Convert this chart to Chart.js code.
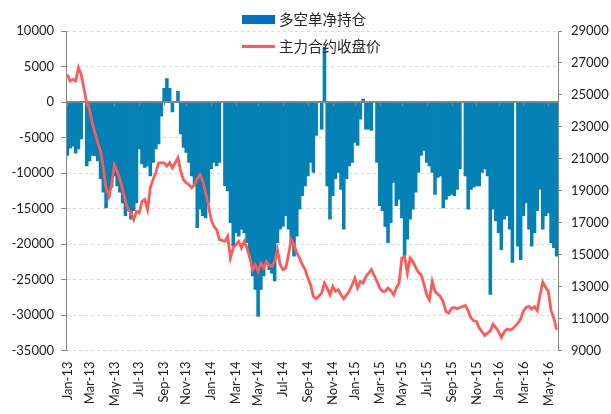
<!DOCTYPE html>
<html><head><meta charset="utf-8">
<script src="https://cdn.jsdelivr.net/npm/chart.js@4.4.1/dist/chart.umd.min.js"></script>
<style>
html,body{margin:0;padding:0;background:#fff;}
#wrap{position:relative;width:611px;height:414px;overflow:hidden;background:#fff;}
canvas{position:absolute;left:0;top:0;}
.lg{position:absolute;left:242px;height:20px;display:flex;align-items:center;font-family:"Noto Sans CJK SC";font-size:14.5px;color:#262626;white-space:nowrap;line-height:1;}
.lg .sw{display:inline-block;width:33px;margin-right:4px;}
</style></head><body>
<div id="wrap"><canvas id="c" width="611" height="414"></canvas>
<div class="lg" style="top:9px"><span class="sw" style="height:9px;background:#0070C0"></span><span id="n0"></span></div>
<div class="lg" style="top:36px"><span class="sw" style="height:3px;background:#FF5A5A"></span><span id="n1"></span></div>
</div>
<script>
const seriesNames = ['多空单净持仓', '主力合约收盘价'];
const firstWeek = [2013, 0, 4];
const tickLabels = ['Jan-13','Mar-13','May-13','Jul-13','Sep-13','Nov-13','Jan-14','Mar-14','May-14','Jul-14','Sep-14','Nov-14','Jan-15','Mar-15','May-15','Jul-15','Sep-15','Nov-15','Jan-16','Mar-16','May-16'];
// weekly net position (null = holiday week)
const netPosition = [
-7500,-6500,-6200,-7200,-6600,-5200,null,-9000,-8300,-7500,
-7600,-8300,-10800,-12700,-14900,-13400,-12000,-10400,-11800,-12700,
-14200,-16000,-15300,-16500,-15300,-14200,-6600,-8700,-9200,-9000,
-10400,-8500,-6600,-5900,-2000,1900,3300,1900,-1400,null,
1500,-4500,-6400,-7100,-8500,-10400,-11800,-17700,-15100,-16000,
-16300,-14200,-9400,-8500,-9000,-8500,null,-11800,-12500,-17000,
-20300,-18400,-18900,-17900,-18400,-19800,-21700,-24500,-26400,-30200,
-26400,-24500,-22600,-23600,-24100,-25200,-19800,-17900,-17500,-16000,
-17900,-19800,-21700,-18900,-15100,-13200,-11800,-10400,-8500,-9900,
-4700,null,-3800,7700,-11800,-16500,-13200,-10800,-9900,-12300,
-17900,-10800,-9000,-8500,-5700,-6100,-2400,400,-3800,-3800,
-4000,null,-8500,-14600,-15300,-17500,-19800,-17000,-11300,-14600,
-13700,-16300,-21700,-19300,-16500,-15100,-12700,-9900,-7500,-6800,
-8500,-9000,-9900,-13000,-10600,-10400,-14900,-13700,-13200,-13000,
-13200,-12300,-9400,null,-10400,-15100,-12300,-12000,-11800,-11800,
-9900,-9400,-10400,-27100,-15100,-16700,-18400,-20800,-16500,-16000,
-17900,-22600,null,-20300,-22200,-16000,-14200,-17900,-20300,-18400,
-15300,-12300,-17900,-16000,-15600,-19800,-20500,-21700
];
// weekly close of main contract
const closePrice = [
26280,25870,25970,25870,26700,26280,null,24500,24090,23250,
22630,22000,21480,20430,19180,18650,19390,20600,20220,19700,
19070,18340,17820,17610,17190,17710,17610,18340,18450,17820,
19180,19700,20120,20750,20750,20750,20540,20750,20430,null,
21060,20220,19700,19490,19390,19180,19390,19760,20010,19600,
18860,18130,17190,16770,16560,15940,null,15830,16150,14790,
15420,15620,15830,15420,15830,15420,14790,14060,14370,13950,
14470,14160,14580,14330,14260,14580,15310,14370,14060,14160,
15000,15940,15620,15100,14790,14370,14060,13530,13120,12380,
12240,null,12590,13220,12910,12490,13010,12700,12800,12490,
12240,12490,12700,13120,13530,12910,13330,13220,13640,13850,
14060,null,13330,12910,12700,12700,12910,12750,12490,12910,
13220,14790,14890,13850,14790,14580,14200,13890,13740,13160,
12490,12170,13330,12700,12530,12380,12030,11440,11340,11650,
11690,11610,11690,null,11820,11490,11030,10860,10820,10400,
10190,9940,10090,10230,10650,10440,10190,9810,10150,10340,
10290,10340,null,10710,10980,11490,11690,11760,11590,11740,
11490,12490,13280,12950,12700,11490,11030,10300
];

document.getElementById('n0').textContent = seriesNames[0];
document.getElementById('n1').textContent = seriesNames[1];

const weeks = netPosition.map((_, i) => {
  const d = new Date(Date.UTC(firstWeek[0], firstWeek[1], firstWeek[2] + 7 * i));
  return d.toISOString().slice(0, 10);
});
const labelAt = {};
let k = 0;
weeks.forEach((w, i) => {
  const d = new Date(w + 'T00:00:00Z');
  if (d.getUTCDate() <= 7 && d.getUTCMonth() % 2 === 0 && k < tickLabels.length) labelAt[i] = tickLabels[k++];
});

const tickFont = {family: 'Lato', size: 13};
const axisGray = '#868686';

const zeroLine = {
  id: 'zeroLine',
  beforeDatasetDraw(chart, args) {
    if (args.index !== 1) return;
    const {ctx, chartArea: a, scales: {x, y}} = chart;
    const y0 = Math.round(y.getPixelForValue(0));
    ctx.save();
    ctx.strokeStyle = axisGray;
    ctx.lineWidth = 2;
    ctx.beginPath();
    ctx.moveTo(a.left, y0); ctx.lineTo(a.right, y0);
    ctx.stroke();
    ctx.lineWidth = 1;
    ctx.beginPath();
    Object.keys(labelAt).forEach(i => {
      const px = Math.round(x.getPixelForValue(+i)) + 0.5;
      ctx.moveTo(px, y0); ctx.lineTo(px, y0 + 4);
    });
    ctx.stroke();
    ctx.restore();
  }
};

new Chart(document.getElementById('c'), {
  data: {
    labels: weeks,
    datasets: [
      {type: 'bar', label: seriesNames[0], data: netPosition, yAxisID: 'y', backgroundColor: '#0481B5',
       barPercentage: 1, categoryPercentage: 1, inflateAmount: 0.4, order: 2},
      {type: 'line', label: seriesNames[1], data: closePrice, yAxisID: 'y1', borderColor: '#FF5A5A',
       borderWidth: 2.8, pointRadius: 0, tension: 0, spanGaps: true, order: 1}
    ]
  },
  options: {
    responsive: false, animation: false, devicePixelRatio: 1,
    layout: {padding: {top: 31, left: 0, right: 0, bottom: 0}},
    plugins: {legend: {display: false}, tooltip: {enabled: false}},
    scales: {
      x: {
        type: 'category', offset: true,
        grid: {display: false, drawTicks: false}, border: {display: false},
        ticks: {autoSkip: false, maxRotation: 90, minRotation: 90, padding: 11, color: '#222', font: tickFont,
                callback: (v, i) => (labelAt[i] !== undefined ? labelAt[i] : null)},
        afterFit: s => { s.height = 63.5; }
      },
      y: {
        position: 'left', min: -35000, max: 10000,
        ticks: {stepSize: 5000, padding: 7, color: '#222', font: tickFont, callback: v => String(v)},
        grid: {color: c => (c.tick && c.tick.value === 0 ? 'rgba(0,0,0,0)' : '#D9D9D9'), lineWidth: 1,
               tickColor: axisGray, tickLength: 5, borderDash: [3, 3]},
        border: {display: true, color: axisGray, width: 1, dash: [3, 3], z: 1},
        afterFit: s => { s.width = 66; }
      },
      y1: {
        position: 'right', min: 9000, max: 29000,
        ticks: {stepSize: 2000, padding: 9, color: '#222', font: tickFont, callback: v => String(v)},
        grid: {drawOnChartArea: false, tickColor: axisGray, tickLength: 4},
        border: {display: true, color: axisGray, width: 1, z: 1},
        afterFit: s => { s.width = 53; }
      }
    }
  },
  plugins: [zeroLine]
});
</script>
</body></html>
